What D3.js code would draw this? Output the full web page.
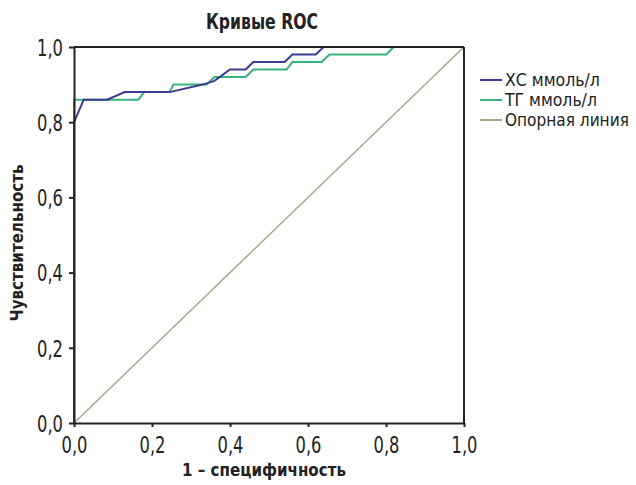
<!DOCTYPE html>
<html><head><meta charset="utf-8">
<script src="https://cdn.jsdelivr.net/npm/d3@7"></script>
<style>
body{margin:0;background:#fff;}
text{font-family:"DejaVu Sans",sans-serif;}
</style></head>
<body><svg id="c" width="636" height="485"></svg>
<script>
const title = "Кривые ROC";
const xTitle = "1 – специфичность";
const yTitle = "Чувствительность";
const ticks = [0, 0.2, 0.4, 0.6, 0.8, 1.0];
const seriesNames = ["ХС ммоль/л", "ТГ ммоль/л", "Опорная линия"];
const seriesColors = ["#3b3b8f", "#38b27c", "#aaa68a"];
// ROC points: [1 - specificity, sensitivity]
const xcPoints = [[0,0],[0,0.80],[0.025,0.86],[0.085,0.86],[0.13,0.88],[0.245,0.88],[0.33,0.90],[0.36,0.91],[0.40,0.94],[0.44,0.94],[0.46,0.96],[0.54,0.96],[0.56,0.98],[0.62,0.98],[0.64,1.0],[1,1]];
const tgPoints = [[0,0],[0,0.86],[0.165,0.86],[0.18,0.88],[0.245,0.88],[0.255,0.90],[0.34,0.90],[0.36,0.92],[0.44,0.92],[0.46,0.94],[0.545,0.94],[0.56,0.96],[0.635,0.96],[0.655,0.98],[0.80,0.98],[0.82,1.0],[1,1]];
const refPoints = [[0,0],[1,1]];

const svg = d3.select("#c");
const L = 74, R = 464, T = 47, B = 423;
const x = d3.scaleLinear().domain([0,1]).range([L,R]);
const y = d3.scaleLinear().domain([0,1]).range([B,T]);
const fmt = v => d3.format(".1f")(v).replace(".", ",");

const line = d3.line().x(d=>x(d[0])).y(d=>y(d[1]));
const data = [xcPoints, tgPoints, refPoints];
[2,1,0].forEach(i=>{
  svg.append("path").datum(data[i]).attr("d", line)
    .attr("fill","none").attr("stroke", seriesColors[i])
    .attr("stroke-width", i===2 ? 1.5 : 2);
});

svg.append("line").attr("x1",x(0)).attr("x2",x(1)).attr("y1",y(1)).attr("y2",y(1)).attr("stroke","#222").attr("stroke-width",2);
svg.append("line").attr("x1",x(1)).attr("x2",x(1)).attr("y1",y(1)).attr("y2",y(0)).attr("stroke","#222").attr("stroke-width",2);

const sx = 0.71;
const xa = svg.append("g").attr("transform",`translate(0,${B})`)
  .call(d3.axisBottom(x).tickValues(ticks).tickFormat(fmt).tickSize(4).tickSizeOuter(0).tickPadding(6));
const ya = svg.append("g").attr("transform",`translate(${L},0)`)
  .call(d3.axisLeft(y).tickValues(ticks).tickFormat(fmt).tickSize(5).tickSizeOuter(0).tickPadding(6));
[xa,ya].forEach(g=>{
  g.select(".domain").attr("stroke","#222").attr("stroke-width",2);
  g.selectAll(".tick line").attr("stroke","#222").attr("stroke-width",2);
  g.selectAll(".tick text").attr("fill","#222").style("font-size","23px")
    .attr("transform",`scale(${sx},1)`);
});
ya.selectAll(".tick text").attr("x", -11/sx).attr("dy","0.36em");
xa.selectAll(".tick text").attr("y", 30).attr("dy", null);

svg.append("text").attr("x",262).attr("y",29).attr("text-anchor","middle")
  .attr("textLength",112).attr("lengthAdjust","spacingAndGlyphs")
  .style("font-size","21px").style("font-weight","bold").attr("fill","#222").text(title);
svg.append("text").attr("x",264).attr("y",476).attr("text-anchor","middle")
  .attr("textLength",164).attr("lengthAdjust","spacingAndGlyphs")
  .style("font-size","18px").style("font-weight","bold").attr("fill","#222").text(xTitle);
svg.append("text").attr("transform",`translate(23,243) rotate(-90)`).attr("text-anchor","middle")
  .attr("textLength",157).attr("lengthAdjust","spacingAndGlyphs")
  .style("font-size","18px").style("font-weight","bold").attr("fill","#222").text(yTitle);

const legendWidths = [95, 92, 124];
const lg = svg.append("g");
seriesNames.forEach((n,i)=>{
  const yy = 80 + i*20;
  lg.append("line").attr("x1",480).attr("x2",502).attr("y1",yy).attr("y2",yy)
    .attr("stroke",seriesColors[i]).attr("stroke-width",2);
  const t = lg.append("text").attr("x",0).attr("y",0).attr("dy","0.36em")
    .style("font-size","17px").attr("fill","#222").text(n);
  const w = t.node().getComputedTextLength();
  t.attr("transform",`translate(505,${yy}) scale(${legendWidths[i]/w},1)`);
});
</script></body></html>
